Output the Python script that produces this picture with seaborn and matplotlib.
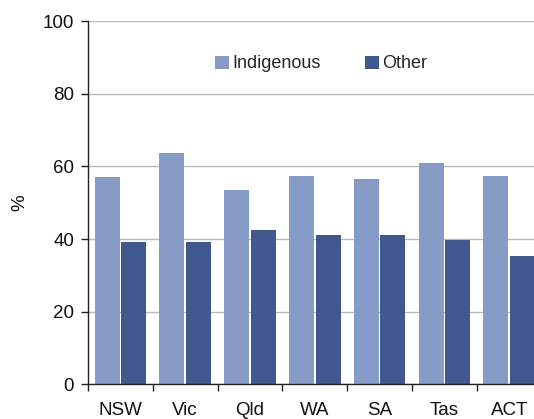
import pandas as pd
import matplotlib.pyplot as plt
import seaborn as sns

states = ["NSW", "Vic", "Qld", "WA", "SA", "Tas", "ACT"]
indigenous = [57.0, 63.6, 53.4, 57.3, 56.5, 60.9, 57.3]
other = [39.1, 39.1, 42.4, 41.0, 41.0, 39.6, 35.2]
groups = ["Indigenous", "Other"]
colores = ["#879BC7", "#3F5890"]

df = pd.DataFrame({
    "estado": states * 2,
    "grupo": [groups[0]] * len(states) + [groups[1]] * len(states),
    "pct": indigenous + other,
})

sns.set_theme(style="white")
plt.rcParams["font.family"] = ["Liberation Sans", "DejaVu Sans"]

fig = plt.figure(figsize=(5.34, 4.19), dpi=100)
ax = fig.add_axes([88 / 534, 35 / 419, 453.6 / 534, 362.5 / 419])

sns.barplot(data=df, x="estado", y="pct", hue="grupo", palette=colores,
            width=0.818, gap=0.056, ax=ax, saturation=1, errorbar=None,
            linewidth=0)

ax.set_xlim(-0.5, 6.5)
ax.set_ylim(0, 100)
ax.set_yticks([0, 20, 40, 60, 80, 100])
ax.yaxis.grid(True, color="#BBBBBB", linewidth=1)
ax.set_axisbelow(True)

# etiquetas centradas, marcas en los limites de cada categoria
ax.set_xticks(range(len(states)))
ax.set_xticklabels(states)
ax.set_xticks([i - 0.5 for i in range(len(states) + 1)], minor=True)
ax.tick_params(axis="x", which="major", length=0, pad=13, labelsize=13.5, labelcolor="#111111")
ax.tick_params(axis="x", which="minor", length=5, width=1, color="#222222", bottom=True)
ax.tick_params(axis="y", length=5, width=1, color="#222222", left=True, labelsize=13.5,
               labelcolor="#111111", pad=5)

for lado in ["top", "right"]:
    ax.spines[lado].set_visible(False)
for lado in ["left", "bottom"]:
    ax.spines[lado].set_color("#222222")
    ax.spines[lado].set_linewidth(1)

ax.set_xlabel("")
ax.set_ylabel("%", fontsize=13.5, labelpad=10, color="#111111")

ax.legend(loc="center left", bbox_to_anchor=(0.265, 0.883), ncol=2, frameon=False,
          fontsize=13, handlelength=0.75, handleheight=0.75, handletextpad=0.2,
          columnspacing=2.45, borderaxespad=0)

fig.savefig("out.png", dpi=100)
plt.close(fig)
